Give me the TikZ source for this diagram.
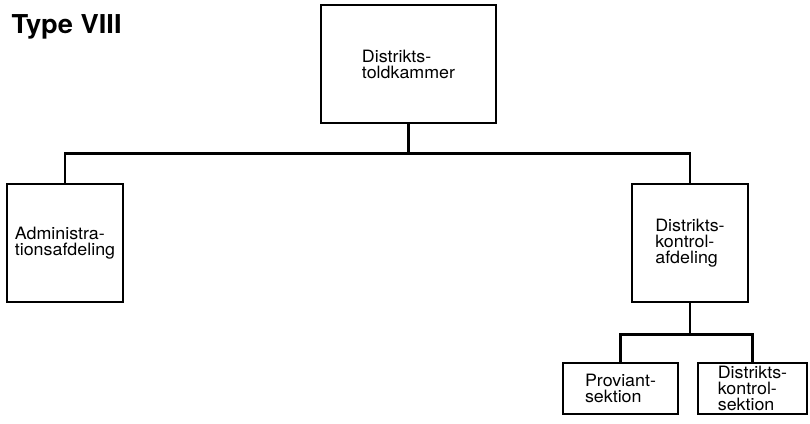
\documentclass[tikz,border=0pt]{standalone}
\usepackage{fontspec}
\setmainfont{TeX Gyre Heros}
\newfontfamily\boxfont[FakeStretch=1.05]{TeX Gyre Heros}
\newfontfamily\titlefont[FakeStretch=1.05]{TeX Gyre Heros}
\usetikzlibrary{positioning}

\tikzset{
	unitbox/.style={draw=black, line width=2.6pt, inner sep=0pt, align=left,
		font=\boxfont\fontsize{17}{16}\selectfont},
	link/.style={line width=2.4pt, color=black}
}

\begin{document}
\begin{tikzpicture}[x=1pt, y=-1pt]
			%%%%% START %%%%%
			\useasboundingbox (0, 0) rectangle (810, 423);
			
			\node[anchor=base west, font=\titlefont\bfseries\fontsize{26}{26}\selectfont] (title) at (8, 33) {Type VIII};
			
			\node[unitbox, minimum width=175pt, minimum height=118pt] (toldkammer) at (408.5, 64) {Distrikts-\\toldkammer};
			\node[unitbox, minimum width=116pt, minimum height=118pt] (admin) at (65, 243) {Administra-\\tionsafdeling};
			\node[unitbox, minimum width=116pt, minimum height=118pt] (kontrol) at (690, 243) {Distrikts-\\kontrol-\\afdeling};
			
			\node[unitbox, minimum width=115pt, minimum height=51pt] (proviant) at (620.5, 388.5) {Proviant-\\sektion};
			\node[unitbox, minimum width=109pt, minimum height=51pt] (ksektion) at (752.5, 388.5) {Distrikts-\\kontrol-\\sektion};
			
			\draw[link] (toldkammer.south) -- ++(0, 29) coordinate (topbar);
			\draw[link] (admin.north) |- (topbar) -| (kontrol.north);
			
			\draw[link] (kontrol.south) -- ++(0, 31) coordinate (subbar);
			\draw[link] (proviant.north) |- (subbar) -| (ksektion.north);
			
			%%%%% END %%%%%
\end{tikzpicture}
\end{document}
